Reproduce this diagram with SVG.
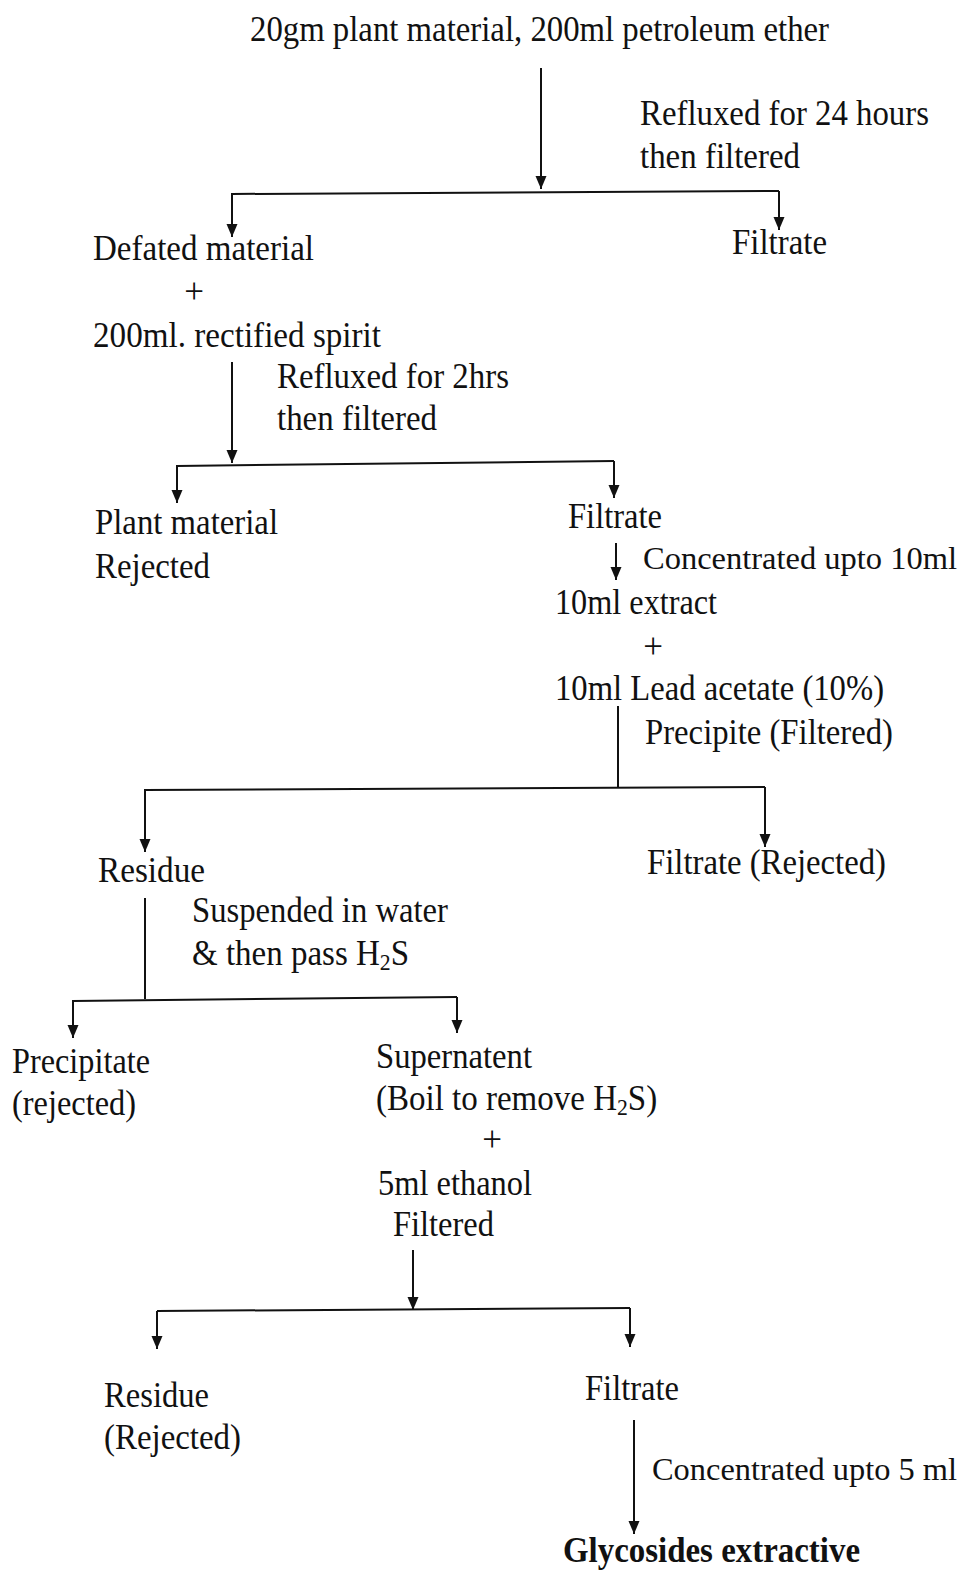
<svg xmlns="http://www.w3.org/2000/svg" width="968" height="1570" viewBox="0 0 968 1570">
  <style>
    text { font-family: "Liberation Serif", "Times New Roman", serif; font-size: 35px; fill: #111; }
    .bold { font-weight: bold; }
    .sub { font-size: 23px; }
    .edge { font-size: 32.5px; }
    .wire { fill: none; stroke: #111; stroke-width: 2; }
    .arr { fill: none; stroke: #111; stroke-width: 2; marker-end: url(#head); }
  </style>
  <defs>
    <marker id="head" viewBox="0 -6 13 12" refX="13" refY="0" markerUnits="userSpaceOnUse" markerWidth="13" markerHeight="12" orient="auto">
      <path d="M0,-5.5 L13,0 L0,5.5 z" fill="#111"/>
    </marker>
  </defs>
  <rect width="968" height="1570" fill="#fff"/>

  <g id="connectors">
    <!-- petroleum ether reflux -->
    <path class="arr" d="M541,68 V189"/>
    <path class="wire" d="M232,194 L779,191"/>
    <path class="arr" d="M232,193 V237"/>
    <path class="arr" d="M779,191 V230"/>
    <!-- rectified spirit reflux -->
    <path class="arr" d="M232,362 V463"/>
    <path class="wire" d="M177,466 L614,461"/>
    <path class="arr" d="M177,465 V503"/>
    <path class="arr" d="M614,461 V498"/>
    <!-- concentration -->
    <path class="arr" d="M616,543 V580"/>
    <!-- lead acetate precipitation -->
    <path class="wire" d="M618,706 V788"/>
    <path class="wire" d="M145,790 L765,787"/>
    <path class="arr" d="M145,789 V852"/>
    <path class="arr" d="M765,787 V847"/>
    <!-- H2S treatment -->
    <path class="wire" d="M145,898 V999"/>
    <path class="wire" d="M73,1001 L457,997"/>
    <path class="arr" d="M73,1000 V1038"/>
    <path class="arr" d="M457,997 V1033"/>
    <!-- ethanol filtration -->
    <path class="arr" d="M413,1250 V1310"/>
    <path class="wire" d="M157,1311 L630,1308"/>
    <path class="arr" d="M157,1311 V1349"/>
    <path class="arr" d="M630,1308 V1347"/>
    <!-- final concentration -->
    <path class="arr" d="M634,1420 V1534"/>
  </g>

  <g id="start">
    <text x="250" y="41" textLength="579" lengthAdjust="spacingAndGlyphs">20gm plant material, 200ml petroleum ether</text>
  </g>
  <g id="step1-label">
    <text x="640" y="125" textLength="289" lengthAdjust="spacingAndGlyphs">Refluxed for 24 hours</text>
    <text x="640" y="168" textLength="160" lengthAdjust="spacingAndGlyphs">then filtered</text>
  </g>
  <g id="defated">
    <text x="93" y="260" textLength="221" lengthAdjust="spacingAndGlyphs">Defated material</text>
    <text x="194" y="303" text-anchor="middle">+</text>
    <text x="93" y="347" textLength="288" lengthAdjust="spacingAndGlyphs">200ml. rectified spirit</text>
  </g>
  <g id="filtrate1">
    <text x="732" y="254" textLength="95" lengthAdjust="spacingAndGlyphs">Filtrate</text>
  </g>
  <g id="step2-label">
    <text x="277" y="388" textLength="232" lengthAdjust="spacingAndGlyphs">Refluxed for 2hrs</text>
    <text x="277" y="430" textLength="160" lengthAdjust="spacingAndGlyphs">then filtered</text>
  </g>
  <g id="plant-rejected">
    <text x="95" y="534" textLength="183" lengthAdjust="spacingAndGlyphs">Plant material</text>
    <text x="95" y="578" textLength="115" lengthAdjust="spacingAndGlyphs">Rejected</text>
  </g>
  <g id="filtrate2">
    <text x="568" y="528" textLength="94" lengthAdjust="spacingAndGlyphs">Filtrate</text>
  </g>
  <g id="step3-label">
    <text class="edge" x="643" y="569" textLength="314" lengthAdjust="spacingAndGlyphs">Concentrated upto 10ml</text>
  </g>
  <g id="extract">
    <text x="555" y="614" textLength="162" lengthAdjust="spacingAndGlyphs">10ml extract</text>
    <text x="653" y="658" text-anchor="middle">+</text>
    <text x="555" y="700" textLength="329" lengthAdjust="spacingAndGlyphs">10ml Lead acetate (10%)</text>
  </g>
  <g id="step4-label">
    <text x="645" y="744" textLength="248" lengthAdjust="spacingAndGlyphs">Precipite (Filtered)</text>
  </g>
  <g id="residue1">
    <text x="98" y="882" textLength="107" lengthAdjust="spacingAndGlyphs">Residue</text>
  </g>
  <g id="filtrate-rejected">
    <text x="647" y="874" textLength="239" lengthAdjust="spacingAndGlyphs">Filtrate (Rejected)</text>
  </g>
  <g id="step5-label">
    <text x="192" y="922" textLength="256" lengthAdjust="spacingAndGlyphs">Suspended in water</text>
    <text transform="translate(192,965) scale(0.943,1)">&amp; then pass H<tspan class="sub" dy="5">2</tspan><tspan dy="-5">S</tspan></text>
  </g>
  <g id="precipitate">
    <text x="12" y="1073" textLength="138" lengthAdjust="spacingAndGlyphs">Precipitate</text>
    <text x="12" y="1115" textLength="124" lengthAdjust="spacingAndGlyphs">(rejected)</text>
  </g>
  <g id="supernatent">
    <text x="376" y="1068" textLength="156" lengthAdjust="spacingAndGlyphs">Supernatent</text>
    <text transform="translate(376,1110) scale(0.943,1)">(Boil to remove H<tspan class="sub" dy="5">2</tspan><tspan dy="-5">S)</tspan></text>
    <text x="492" y="1151" text-anchor="middle">+</text>
    <text x="378" y="1195" textLength="154" lengthAdjust="spacingAndGlyphs">5ml ethanol</text>
    <text x="393" y="1236" textLength="101" lengthAdjust="spacingAndGlyphs">Filtered</text>
  </g>
  <g id="residue2">
    <text x="104" y="1407" textLength="105" lengthAdjust="spacingAndGlyphs">Residue</text>
    <text x="104" y="1449" textLength="137" lengthAdjust="spacingAndGlyphs">(Rejected)</text>
  </g>
  <g id="filtrate3">
    <text x="585" y="1400" textLength="94" lengthAdjust="spacingAndGlyphs">Filtrate</text>
  </g>
  <g id="step6-label">
    <text class="edge" x="652" y="1480" textLength="305" lengthAdjust="spacingAndGlyphs">Concentrated upto 5 ml</text>
  </g>
  <g id="glycosides">
    <text class="bold" x="563" y="1562" textLength="297" lengthAdjust="spacingAndGlyphs">Glycosides extractive</text>
  </g>
</svg>
